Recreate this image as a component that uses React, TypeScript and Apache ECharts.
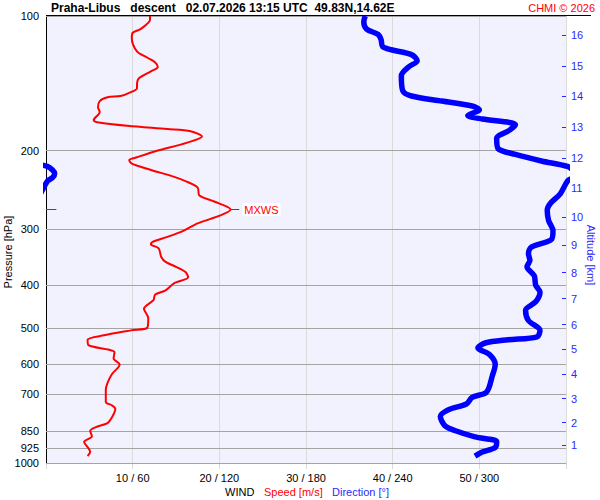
import React, { useEffect, useRef } from "react";
import * as echarts from "echarts";

// wind speed profile (pressure hPa -> speed m/s)
const speedPressure = [
  100, 102, 107, 109, 112, 120, 124, 127, 130, 133, 138, 143, 145, 148, 151, 152, 155, 160, 164,
  171, 173, 176, 179, 181, 186, 192, 200, 207, 210, 214, 221, 229, 235, 242, 252, 260, 271, 279,
  291, 302, 312, 320, 324, 331, 346, 355, 364, 374, 384, 396, 411, 420, 432, 452, 474, 498, 505,
  518, 530, 545, 558, 565, 584, 602, 633, 662, 686, 730, 743, 757, 791, 814, 832, 847, 871, 897,
  927, 944, 965,
];
const speedValues = [
  12.0, 12.0, 10.9, 10.0, 9.9, 10.5, 11.7, 12.6, 12.9, 12.1, 10.7, 10.5, 10.5, 9.8, 8.6, 7.1, 6.2,
  6.0, 6.2, 5.5, 6.1, 9.4, 14.0, 16.7, 18.0, 16.3, 12.9, 10.5, 9.6, 9.9, 12.1, 14.8, 16.3, 17.5,
  17.7, 19.4, 21.3, 20.2, 17.5, 15.9, 14.0, 12.3, 12.1, 13.0, 13.3, 13.8, 15.0, 16.1, 16.4, 14.8,
  13.8, 12.6, 12.4, 11.3, 11.8, 11.7, 9.8, 6.7, 4.8, 4.9, 7.3, 7.9, 7.8, 8.5, 7.6, 7.1, 6.9, 6.9,
  7.6, 8.0, 7.6, 7.1, 5.7, 5.1, 5.3, 4.4, 4.9, 5.1, 4.8,
];

// wind direction profile (pressure hPa -> direction deg, values above 360 wrap round)
const dirPressure = [
  100, 103, 107, 110, 113, 117, 119, 122, 126, 130, 136, 147, 151, 155, 159, 162, 167, 170, 175,
  180, 188, 198, 204, 211, 217, 221, 225, 230, 234, 250, 263, 272, 287, 302, 316, 329, 340, 352,
  364, 381, 400, 415, 436, 455, 480, 505, 522, 530, 539, 553, 572, 602, 638, 694, 713, 738, 759,
  787, 824, 846, 874, 896, 923, 945, 965,
];
const dirValues = [
  221, 220, 222, 230, 232, 233, 239, 253, 257, 251, 246, 247, 253, 274, 295, 300, 292, 302, 325,
  321, 312, 313, 325, 343, 361, 364.5, 366, 364.5, 361, 356, 349, 347, 348, 351, 350, 336, 334,
  335, 333, 338, 339, 342, 339, 332, 334, 342, 340, 320, 304, 299, 307, 311, 309, 305, 295, 291,
  279, 273, 276, 283, 297, 312, 311, 302, 297,
];

const pressureLevels = [100, 200, 300, 400, 500, 600, 700, 850, 925, 1000];
const altitudeKm = [1, 2, 3, 4, 5, 6, 7, 8, 9, 10, 11, 12, 13, 14, 15, 16];
const altitudePressure = [
  913, 812, 718, 633, 557, 490, 429, 375, 326, 282, 242, 208, 177, 151, 129.5, 110.4,
];
const speedTicks = [10, 20, 30, 40, 50];
const dirTicks = [60, 120, 180, 240, 300];

const FONT = "'Liberation Sans', Arial, sans-serif";
const RED = "#ff0000";
const BLUE = "#0000ff";
const AXIS_BLUE = "#2a2aff";

const App: React.FC = () => {
  const chartRef = useRef<HTMLDivElement>(null);

  useEffect(() => {
    if (!chartRef.current) return;
    const chart = echarts.init(chartRef.current, undefined, { renderer: "svg" });

    const speedData = speedValues.map((s, i) => [s, speedPressure[i]]);
    const dirData = dirValues.map((d, i) => [d, dirPressure[i]]);
    const dirWrapped = dirValues.map((d, i) => [d - 360, dirPressure[i]]);

    // maximum wind
    let mx = 0;
    speedValues.forEach((s, i) => {
      if (s > speedValues[mx]) mx = i;
    });
    const mxSpeed = speedValues[mx];
    const mxP = speedPressure[mx];

    chart.setOption({
      animation: false,
      backgroundColor: "#ffffff",
      textStyle: { fontFamily: FONT },
      grid: {
        left: 46,
        right: 34,
        top: 16,
        bottom: 37,
        show: true,
        backgroundColor: "#f2f2ff",
        borderWidth: 0,
      },
      xAxis: [
        {
          type: "value",
          min: 0,
          max: 60,
          interval: 10,
          axisLine: { show: false },
          axisTick: { show: true, length: 6, lineStyle: { color: "#d8d8d8" } },
          splitLine: { show: true, lineStyle: { color: "#dadada", width: 1 } },
          axisLabel: {
            fontSize: 11,
            color: "#000",
            margin: 9,
            fontFamily: FONT,
            formatter: (v: number) => {
              const i = speedTicks.indexOf(v);
              return i >= 0 ? `${v} / ${dirTicks[i]}` : "";
            },
          },
        },
        { type: "value", min: 0, max: 360, show: false },
      ],
      yAxis: {
        type: "log",
        logBase: 10,
        min: 100,
        max: 1000,
        inverse: true,
        axisLine: { show: true, lineStyle: { color: "#000", width: 1 } },
        axisTick: { show: false },
        axisLabel: { show: false },
        splitLine: { show: false },
      },
      series: [
        {
          name: "Speed",
          type: "line",
          xAxisIndex: 0,
          data: speedData,
          showSymbol: false,
          smooth: 0.3,
          z: 3,
          lineStyle: { color: RED, width: 2 },
          markLine: {
            z: 1,
            silent: true,
            symbol: ["none", "none"],
            data: [
              ...pressureLevels.map((p) => ({
                yAxis: p,
                lineStyle: { color: "#a4a4a4", width: 1, type: "solid" },
                label: {
                  show: true,
                  position: "start",
                  distance: 7,
                  formatter: String(p),
                  color: "#000",
                  fontSize: 11,
                  fontFamily: FONT,
                },
              })),
              [
                {
                  coord: [mxSpeed, mxP],
                  lineStyle: { color: RED, width: 1, type: "solid" },
                  label: {
                    show: true,
                    position: "end",
                    distance: 3,
                    formatter: "MXWS",
                    color: RED,
                    fontSize: 11,
                    fontFamily: FONT,
                    backgroundColor: "#ffffff",
                    padding: [1, 2],
                  },
                },
                { coord: [mxSpeed + 1, mxP] },
              ],
              [
                {
                  coord: [0, mxP],
                  lineStyle: { color: RED, width: 1, type: "solid" },
                  label: { show: false },
                },
                { coord: [1.2, mxP] },
              ],
            ],
          },
        },
        {
          name: "Direction",
          type: "line",
          xAxisIndex: 1,
          data: dirData,
          showSymbol: false,
          smooth: 0.3,
          z: 3,
          lineStyle: { color: BLUE, width: 5.5 },
          markLine: {
            z: 1,
            silent: true,
            symbol: ["none", "none"],
            data: altitudeKm.map((km, i) => [
              {
                name: String(km),
                coord: [357.2, altitudePressure[i]],
                lineStyle: { color: AXIS_BLUE, width: 1, type: "solid" },
                label: {
                  show: true,
                  position: "end",
                  distance: 5,
                  formatter: String(km),
                  color: AXIS_BLUE,
                  fontSize: 11,
                  fontFamily: FONT,
                },
              },
              { coord: [360, altitudePressure[i]] },
            ]),
          },
        },
        {
          name: "DirectionWrap",
          type: "line",
          xAxisIndex: 1,
          data: dirWrapped,
          showSymbol: false,
          smooth: 0.3,
          clip: true,
          z: 3,
          lineStyle: { color: BLUE, width: 5.5 },
        },
      ],
      graphic: [
        {
          type: "line",
          shape: { x1: 46, y1: 15.5, x2: 591, y2: 15.5 },
          style: { stroke: "#000", lineWidth: 1 },
          z: 10,
        },
        {
          type: "text",
          x: 51,
          y: 7.5,
          style: {
            text: "Praha-Libus   descent   02.07.2026 13:15 UTC  49.83N,14.62E",
            fill: "#000",
            font: `bold 12px ${FONT}`,
            verticalAlign: "middle",
          },
        },
        {
          type: "text",
          x: 595,
          y: 7.5,
          style: {
            text: "CHMI © 2026",
            fill: RED,
            font: `11px ${FONT}`,
            align: "right",
            verticalAlign: "middle",
          },
        },
        {
          type: "text",
          x: 8,
          y: 252,
          rotation: Math.PI / 2,
          style: {
            text: "Pressure [hPa]",
            fill: "#000",
            font: `11px ${FONT}`,
            align: "center",
            verticalAlign: "middle",
          },
        },
        {
          type: "text",
          x: 591,
          y: 255,
          rotation: -Math.PI / 2,
          style: {
            text: "Altitude [km]",
            fill: AXIS_BLUE,
            font: `11px ${FONT}`,
            align: "center",
            verticalAlign: "middle",
          },
        },
        {
          type: "text",
          x: 225,
          y: 492,
          style: { text: "WIND", fill: "#000", font: `11px ${FONT}`, verticalAlign: "middle" },
        },
        {
          type: "text",
          x: 264,
          y: 492,
          style: { text: "Speed [m/s]", fill: RED, font: `11px ${FONT}`, verticalAlign: "middle" },
        },
        {
          type: "text",
          x: 332,
          y: 492,
          style: {
            text: "Direction [°]",
            fill: AXIS_BLUE,
            font: `11px ${FONT}`,
            verticalAlign: "middle",
          },
        },
      ],
    });

    return () => chart.dispose();
  }, []);

  return (
    <div
      ref={chartRef}
      style={{ position: "absolute", left: 0, top: 0, width: "600px", height: "500px" }}
    />
  );
};

export default App;
